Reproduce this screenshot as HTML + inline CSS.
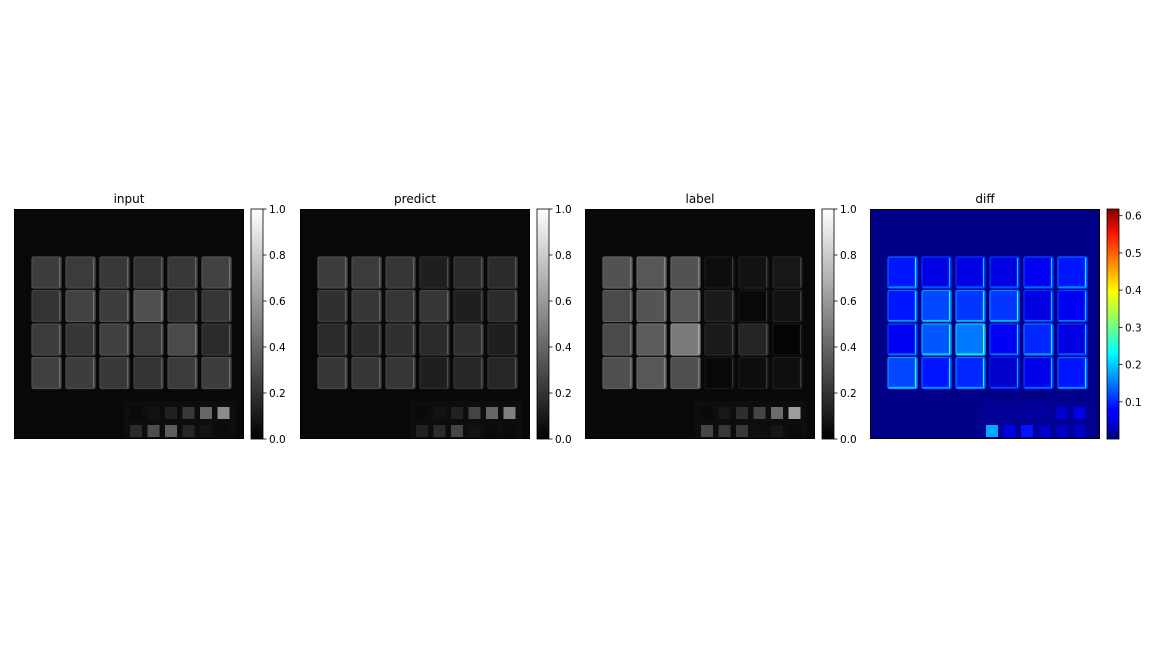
<!DOCTYPE html>
<html><head><meta charset="utf-8">
<style>
body{margin:0;background:#fff;width:1152px;height:648px;overflow:hidden;font-family:"Liberation Sans","DejaVu Sans",sans-serif}
svg text{font-family:"DejaVu Sans","Liberation Sans",sans-serif}
</style></head>
<body>
<svg id="fig" width="1152" height="648" viewBox="0 0 1152 648">
<defs>
<linearGradient id="gray" x1="0" y1="1" x2="0" y2="0"><stop offset="0" stop-color="#000"/><stop offset="1" stop-color="#fff"/></linearGradient>
<linearGradient id="jet" x1="0" y1="1" x2="0" y2="0">
<stop offset="0" stop-color="#00007f"/><stop offset="0.11" stop-color="#0000ff"/><stop offset="0.125" stop-color="#0000ff"/><stop offset="0.34" stop-color="#00dcff"/><stop offset="0.375" stop-color="#00ffff"/><stop offset="0.5" stop-color="#7dff7a"/><stop offset="0.64" stop-color="#ffff00"/><stop offset="0.89" stop-color="#ff1400"/><stop offset="1" stop-color="#7f0000"/></linearGradient>
</defs>
</svg>
<script>
const panelNames=["input","predict","label","diff"];
const panelX=[14,300,585,870];
const inputTiles=[[.24,.23,.22,.20,.22,.26],[.20,.26,.24,.31,.20,.21],[.23,.21,.25,.23,.29,.17],[.25,.24,.22,.20,.23,.24]];
const inputSmall=[[.04,.07,.13,.22,.40,.55],[.17,.30,.37,.15,.08,.04]];
const predictTiles=[[.24,.23,.21,.12,.17,.17],[.19,.21,.21,.21,.12,.17],[.17,.17,.19,.17,.19,.12],[.21,.21,.21,.12,.15,.15]];
const predictSmall=[[.04,.07,.13,.27,.40,.50],[.13,.17,.27,.07,.04,.04]];
const labelTiles=[[.32,.34,.32,.05,.07,.09],[.29,.33,.34,.10,.03,.07],[.29,.36,.48,.10,.14,.02],[.31,.34,.31,.03,.05,.06]];
const labelSmall=[[.04,.09,.18,.27,.42,.62],[.27,.22,.22,.06,.09,.04]];
const diffTiles=[[.09,.06,.06,.06,.07,.09],[.09,.12,.11,.11,.06,.07],[.07,.13,.15,.07,.1,.06],[.12,.09,.1,.045,.065,.09]];
const diffSmall=[[.015,.015,.02,.02,.045,.06],[.18,.06,.09,.045,.04,.04]];
const grayTicks=[0,0.2,0.4,0.6,0.8,1.0];
const jetTicks=[0.1,0.2,0.3,0.4,0.5,0.6];
const jetMax=0.618;

const NS="http://www.w3.org/2000/svg";
const svg=document.getElementById('fig');
function el(t,a,p){const e=document.createElementNS(NS,t);for(const k in a)e.setAttribute(k,a[k]);(p||svg).appendChild(e);return e;}
function gray(v){v=Math.max(0,Math.min(1,v));const c=Math.round(v*255);return `rgb(${c},${c},${c})`;}
function jet(v){let x=Math.max(0,Math.min(1,v/jetMax));
 const r=Math.min(4*x-1.5,-4*x+4.5),g=Math.min(4*x-0.5,-4*x+3.5),b=Math.min(4*x+0.5,-4*x+2.5);
 const f=t=>Math.round(255*Math.max(0,Math.min(1,t)));return `rgb(${f(r)},${f(g)},${f(b)})`;}
const TOP=209,SIZE=230;
const data=[[inputTiles,inputSmall],[predictTiles,predictSmall],[labelTiles,labelSmall],[diffTiles,diffSmall]];
panelNames.forEach((name,p)=>{
 const X=panelX[p],isDiff=name==='diff';const cm=isDiff?jet:gray;
 const g=el('g',{});
 
 
 const bgv=isDiff?0.005:0.03;
 el('rect',{x:X,y:TOP,width:SIZE,height:SIZE,fill:cm(bgv)},g);
 const t=el('text',{x:X+SIZE/2,y:TOP-6,'text-anchor':'middle','font-size':12,fill:'#000'},g);t.textContent=name;
 
 
 el('rect',{x:X+110,y:TOP+192,width:112,height:38,fill:cm(isDiff?0.012:0.05)},g);
 const [tiles,small]=data[p];
 tiles.forEach((row,r)=>row.forEach((v,c)=>{
  const x=X+18+c*34,y=TOP+48+r*33.5;
  const rc=el('rect',{x:x,y:y,width:29,height:31,rx:1.5,fill:cm(v),stroke:cm(isDiff?v+0.05:v+0.06),'stroke-width':1.2},g);
  
  
  el('line',{x1:x+27.5,y1:y+1,x2:x+27.5,y2:y+30,stroke:cm(isDiff?v+0.14:v+0.18),'stroke-width':1.2},g);
  if(isDiff) el('line',{x1:x+1,y1:y+30,x2:x+28,y2:y+30,stroke:cm(v+0.08),'stroke-width':1.2},g);
 }));
 small.forEach((row,r)=>row.forEach((v,c)=>{
  const sq=el('rect',{x:X+116+c*17.5,y:TOP+198+r*18,width:12,height:12,fill:cm(v)},g);
  
  
 }));
 el('rect',{x:X+0.5,y:TOP+0.5,width:SIZE-1,height:SIZE-1,fill:'none',stroke:'#000','stroke-width':1},g);
 const cx=X+237,cw=12;
 const cb=el('g',{});
 
 
 el('rect',{x:cx,y:TOP,width:cw,height:SIZE,fill:isDiff?'url(#jet)':'url(#gray)',stroke:'#000','stroke-width':0.8},cb);
 const ticks=isDiff?jetTicks:grayTicks,vmax=isDiff?jetMax:1;
 ticks.forEach(tv=>{const y=TOP+SIZE-tv/vmax*SIZE;
  el('line',{x1:cx+cw,y1:y,x2:cx+cw+3.5,y2:y,stroke:'#000','stroke-width':0.8},cb);
  const tt=el('text',{x:cx+cw+6,y:y+4,'font-size':10.5,fill:'#000'},cb);tt.textContent=tv.toFixed(1);
  
  
 });
});
</script>
</body></html>
